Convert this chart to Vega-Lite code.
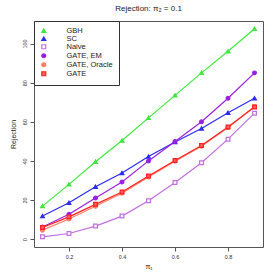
{
  "$schema": "https://vega.github.io/schema/vega-lite/v6.json",
  "width": 229,
  "height": 226,
  "autosize": {"type": "none"},
  "padding": {"left": 34, "top": 21, "right": 10, "bottom": 26},
  "background": "white",
  "title": {"text": "Rejection: π₂ = 0.1", "fontSize": 8, "fontWeight": "normal", "font": "Liberation Sans", "color": "#222", "offset": 8},
  "config": {
    "font": "Liberation Sans",
    "view": {"stroke": "#555", "strokeWidth": 1},
    "axis": {"grid": false, "domain": false, "tickColor": "#555", "tickSize": 4, "labelFontSize": 5.5, "labelColor": "#333", "titleFontSize": 7, "titleFontWeight": "normal", "titleColor": "#222"}
  },
  "data": {"values": [
    {"s": "GBH", "x": 0.1, "y": 16.9}, {"s": "GBH", "x": 0.2, "y": 28}, {"s": "GBH", "x": 0.3, "y": 39.6}, {"s": "GBH", "x": 0.4, "y": 50.4}, {"s": "GBH", "x": 0.5, "y": 62}, {"s": "GBH", "x": 0.6, "y": 73.5}, {"s": "GBH", "x": 0.7, "y": 85}, {"s": "GBH", "x": 0.8, "y": 96}, {"s": "GBH", "x": 0.9, "y": 107.5},
    {"s": "SC", "x": 0.1, "y": 11.8}, {"s": "SC", "x": 0.2, "y": 18.6}, {"s": "SC", "x": 0.3, "y": 26.8}, {"s": "SC", "x": 0.4, "y": 33.8}, {"s": "SC", "x": 0.5, "y": 42.2}, {"s": "SC", "x": 0.6, "y": 49.7}, {"s": "SC", "x": 0.7, "y": 56.6}, {"s": "SC", "x": 0.8, "y": 64.6}, {"s": "SC", "x": 0.9, "y": 72},
    {"s": "Naive", "x": 0.1, "y": 1.2}, {"s": "Naive", "x": 0.2, "y": 2.9}, {"s": "Naive", "x": 0.3, "y": 6.7}, {"s": "Naive", "x": 0.4, "y": 11.8}, {"s": "Naive", "x": 0.5, "y": 19.6}, {"s": "Naive", "x": 0.6, "y": 29}, {"s": "Naive", "x": 0.7, "y": 39.1}, {"s": "Naive", "x": 0.8, "y": 51.1}, {"s": "Naive", "x": 0.9, "y": 64.4},
    {"s": "GATE, EM", "x": 0.1, "y": 6.2}, {"s": "GATE, EM", "x": 0.2, "y": 12.7}, {"s": "GATE, EM", "x": 0.3, "y": 21}, {"s": "GATE, EM", "x": 0.4, "y": 29.2}, {"s": "GATE, EM", "x": 0.5, "y": 40}, {"s": "GATE, EM", "x": 0.6, "y": 49.9}, {"s": "GATE, EM", "x": 0.7, "y": 60}, {"s": "GATE, EM", "x": 0.8, "y": 72}, {"s": "GATE, EM", "x": 0.9, "y": 85},
    {"s": "GATE, Oracle", "x": 0.1, "y": 4.6}, {"s": "GATE, Oracle", "x": 0.2, "y": 10.3}, {"s": "GATE, Oracle", "x": 0.3, "y": 16.8}, {"s": "GATE, Oracle", "x": 0.4, "y": 23.5}, {"s": "GATE, Oracle", "x": 0.5, "y": 31.8}, {"s": "GATE, Oracle", "x": 0.6, "y": 39.8}, {"s": "GATE, Oracle", "x": 0.7, "y": 47.5}, {"s": "GATE, Oracle", "x": 0.8, "y": 57}, {"s": "GATE, Oracle", "x": 0.9, "y": 67.8},
    {"s": "GATE", "x": 0.1, "y": 6}, {"s": "GATE", "x": 0.2, "y": 11.4}, {"s": "GATE", "x": 0.3, "y": 17.8}, {"s": "GATE", "x": 0.4, "y": 24.1}, {"s": "GATE", "x": 0.5, "y": 32.3}, {"s": "GATE", "x": 0.6, "y": 40.2}, {"s": "GATE", "x": 0.7, "y": 47.9}, {"s": "GATE", "x": 0.8, "y": 57.3}, {"s": "GATE", "x": 0.9, "y": 67.5}
  ]},
  "encoding": {
    "x": {"field": "x", "type": "quantitative", "scale": {"domain": [0.068, 0.932], "nice": false, "zero": false}, "axis": {"values": [0.2, 0.4, 0.6, 0.8], "format": ".1f", "title": "π₁", "labelPadding": 3, "titlePadding": 3}},
    "y": {"field": "y", "type": "quantitative", "scale": {"domain": [-4, 111.5], "nice": false, "zero": false}, "axis": {"values": [0, 20, 40, 60, 80, 100], "labelAngle": -90, "labelAlign": "center", "labelBaseline": "bottom", "labelPadding": 3, "title": "Rejection", "titlePadding": 6}},
    "stroke": {"field": "s", "type": "nominal", "title": null, "scale": {"domain": ["GBH", "SC", "Naive", "GATE, EM", "GATE, Oracle", "GATE"], "range": ["#3ee83e", "#2b2bf0", "#c070e0", "#9a1fe0", "#ff7f66", "#ff2020"]},
      "legend": {"title": null, "orient": "top-left", "offset": 0, "padding": 6, "strokeColor": "#333", "fillColor": "white", "labelFontSize": 7.5, "labelColor": "#222", "symbolSize": 16, "rowPadding": -2.6, "symbolStrokeWidth": 1.2, "labelOffset": 19}}
  },
  "layer": [
    {"mark": {"type": "line", "strokeWidth": 1.2}},
    {"mark": {"type": "point", "size": 14, "strokeWidth": 1.2, "opacity": 1},
     "encoding": {
       "shape": {"field": "s", "type": "nominal", "title": null, "scale": {"domain": ["GBH", "SC", "Naive", "GATE, EM", "GATE, Oracle", "GATE"], "range": ["triangle-up", "triangle-up", "square", "circle", "circle", "square"]}},
       "fill": {"field": "s", "type": "nominal", "title": null, "scale": {"domain": ["GBH", "SC", "Naive", "GATE, EM", "GATE, Oracle", "GATE"], "range": ["#3ee83e", "#2b2bf0", "white", "#9a1fe0", "#ff7f66", "#ff6060"]}}
     }}
  ]
}
